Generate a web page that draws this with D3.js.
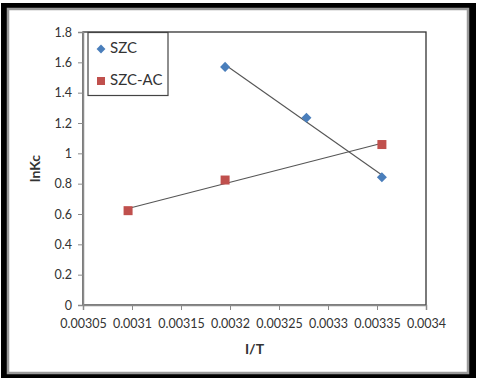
<!DOCTYPE html>
<html>
<head>
<meta charset="utf-8">
<script src="https://cdn.jsdelivr.net/npm/d3@7"></script>
<style>
  html, body { margin: 0; padding: 0; background: #fff; }
  svg { display: block; }
  text { font-family: Lato, "Open Sans", sans-serif; fill: #333; }
</style>
</head>
<body>
<svg id="chart" width="478" height="378"></svg>
<script>
// ─── Data ──────────────────────────────────────────────────────
const seriesNames = ["SZC", "SZC-AC"];
const szcX = [0.003195, 0.003278, 0.003355];
const szcY = [1.57, 1.235, 0.842];
const szcAcX = [0.003096, 0.003195, 0.003355];
const szcAcY = [0.622, 0.824, 1.058];
const xTicks = [0.00305, 0.0031, 0.00315, 0.0032, 0.00325, 0.0033, 0.00335, 0.0034];
const yTicks = [0, 0.2, 0.4, 0.6, 0.8, 1, 1.2, 1.4, 1.6, 1.8];

const plot = { left: 83, top: 32, right: 426, bottom: 305 };

const svg = d3.select("#chart");

// ─── Outer frame ───────────────────────────────────────────────
svg.append("rect").attr("x", 1).attr("y", 3).attr("width", 475).attr("height", 380).attr("fill", "#000");
svg.append("rect").attr("x", 8).attr("y", 9).attr("width", 460).attr("height", 364)
  .attr("fill", "#fff").attr("stroke", "#9a9a9a").attr("stroke-width", 2.5);

// ─── Scales ────────────────────────────────────────────────────
const x = d3.scaleLinear().domain([0.00305, 0.0034]).range([plot.left, plot.right]);
const y = d3.scaleLinear().domain([0, 1.8]).range([plot.bottom, plot.top]);

// plot area border
svg.append("rect")
  .attr("x", plot.left).attr("y", plot.top)
  .attr("width", plot.right - plot.left).attr("height", plot.bottom - plot.top)
  .attr("fill", "none").attr("stroke", "#333").attr("stroke-width", 1.3);

// ─── Axes ──────────────────────────────────────────────────────
const yAxis = svg.append("g")
  .attr("transform", `translate(${plot.left},0)`)
  .call(d3.axisLeft(y).tickValues(yTicks).tickSize(5).tickPadding(6).tickFormat(d3.format("~g")));
const xAxis = svg.append("g")
  .attr("transform", `translate(0,${plot.bottom})`)
  .call(d3.axisBottom(x).tickValues(xTicks).tickSize(5).tickPadding(9).tickFormat(d => String(+d.toFixed(5))));

[xAxis, yAxis].forEach(a => {
  a.select(".domain").attr("stroke", "#8a8a8a").attr("stroke-width", 1.5);
  a.selectAll(".tick line").attr("stroke", "#8a8a8a");
  a.selectAll(".tick text").attr("font-size", 12.5).attr("fill", "#333")
    .attr("font-family", "Lato, 'Open Sans', sans-serif");
});

svg.append("text")
  .attr("transform", `translate(36,${(plot.top + plot.bottom) / 2}) rotate(-90)`)
  .attr("text-anchor", "middle").attr("dominant-baseline", "middle")
  .attr("font-size", 14).attr("font-weight", "bold").text("lnKc");
svg.append("text")
  .attr("x", (plot.left + plot.right) / 2).attr("y", 350)
  .attr("text-anchor", "middle").attr("dominant-baseline", "middle")
  .attr("font-size", 14).attr("font-weight", "bold").text("I/T");

// ─── Trendlines (least squares) ────────────────────────────────
function fit(xs, ys) {
  const n = xs.length, mx = d3.mean(xs), my = d3.mean(ys);
  let sxy = 0, sxx = 0;
  for (let i = 0; i < n; i++) { sxy += (xs[i] - mx) * (ys[i] - my); sxx += (xs[i] - mx) ** 2; }
  const b = sxy / sxx, a = my - b * mx;
  const [x0, x1] = d3.extent(xs);
  return [[x0, a + b * x0], [x1, a + b * x1]];
}
const line = d3.line().x(d => x(d[0])).y(d => y(d[1]));
[[szcX, szcY], [szcAcX, szcAcY]].forEach(([xs, ys]) => {
  svg.append("path").attr("d", line(fit(xs, ys)))
    .attr("fill", "none").attr("stroke", "#555").attr("stroke-width", 1.1);
});

// ─── Markers ───────────────────────────────────────────────────
const blue = "#4a7ebb", red = "#c0504d";
svg.append("g").selectAll("path")
  .data(d3.zip(szcX, szcY)).join("path")
  .attr("transform", d => `translate(${x(d[0])},${y(d[1])})`)
  .attr("d", d3.symbol(d3.symbolDiamond2, 64))
  .attr("fill", blue);
svg.append("g").selectAll("rect")
  .data(d3.zip(szcAcX, szcAcY)).join("rect")
  .attr("x", d => x(d[0]) - 4.5).attr("y", d => y(d[1]) - 4.5)
  .attr("width", 9).attr("height", 9).attr("fill", red);

// ─── Legend ────────────────────────────────────────────────────
const lg = svg.append("g");
lg.append("rect").attr("x", 88).attr("y", 32.5).attr("width", 80).attr("height", 63)
  .attr("fill", "#fff").attr("stroke", "#444").attr("stroke-width", 1.2);
lg.append("path").attr("transform", "translate(101,49)")
  .attr("d", d3.symbol(d3.symbolDiamond2, 50)).attr("fill", blue);
lg.append("rect").attr("x", 97).attr("y", 77).attr("width", 8).attr("height", 8).attr("fill", red);
seriesNames.forEach((s, i) => {
  lg.append("text").attr("x", 110).attr("y", i ? 81 : 49)
    .attr("dominant-baseline", "middle").attr("font-size", 15).text(s);
});
</script>
</body>
</html>
